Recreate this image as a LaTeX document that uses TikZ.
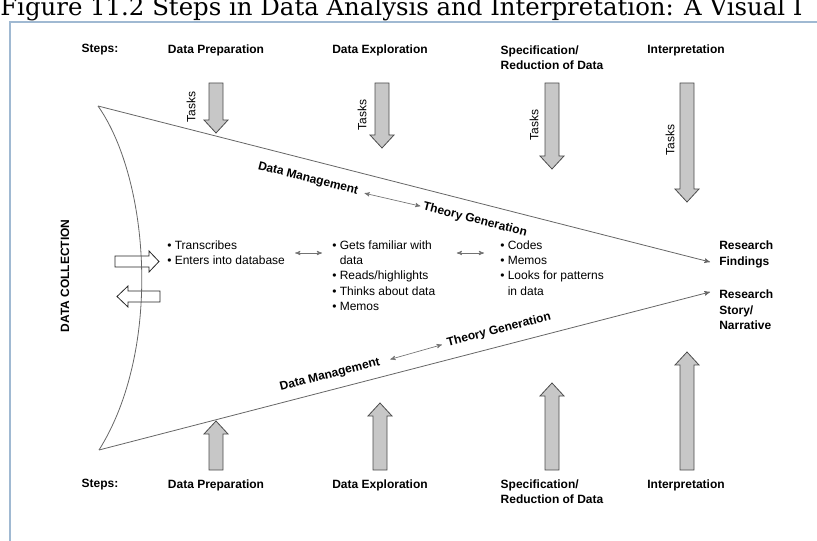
\documentclass[tikz,border=0pt]{standalone}
\usepackage{fontspec}
\setmainfont{Liberation Sans}
\newfontfamily\capfont{DejaVu Serif}
\usetikzlibrary{arrows}

\begin{document}
\begin{tikzpicture}[x=0.75pt,y=-0.75pt,>=stealth',
    head/.style={font=\fontsize{9}{11.5}\selectfont\bfseries,align=left,inner sep=0pt},
    txt/.style={font=\fontsize{9}{11.5}\selectfont,align=left,inner sep=0pt},
    tasks/.style={font=\fontsize{9}{11}\selectfont,rotate=90,inner sep=0pt},
    big/.style={draw=black!70,fill=black!22,line width=0.6pt},
    blank/.style={draw=black!85,fill=white,line width=0.6pt},
    dbl/.style={<->,draw=black!55,line width=0.5pt},
    main/.style={draw=black!60,line width=0.6pt}]
                \useasboundingbox (0,0) rectangle (817,541);
                % caption, cut off at the top
                \node[anchor=base west,inner sep=0pt,font=\capfont\fontsize{18.3}{20}\selectfont](caption)at(0,16){Figure 11.2 Steps in Data Analysis and Interpretation: A Visual I};
                \draw[draw={rgb,255:red,160;green,185;blue,210},line width=1.2pt](10,541) -- (10,22) -- (817,22);
                % steps
                \node[head](steps)at(100,50){Steps:};
                \node[head](prep)at(216,50){Data Preparation};
                \node[head](expl)at(380,50){Data Exploration};
                \node[head](spec)at(552,57.5){Specification/\\Reduction of Data};
                \node[head](interp)at(686,50){Interpretation};
                \node[head](steps2)at(100,485){Steps:};
                \node[head](prep2)at(216,485){Data Preparation};
                \node[head](expl2)at(380,485){Data Exploration};
                \node[head](spec2)at(552,492){Specification/\\Reduction of Data};
                \node[head](interp2)at(686,485){Interpretation};
                % task arrows
                \foreach \x/\tip in {216/133,382/148,552/169,687/202}
                    \draw[big](\x-7,83) -- (\x+7,83) -- (\x+7,\tip-13) -- (\x+12,\tip-13) -- (\x,\tip) -- (\x-12,\tip-13) -- (\x-7,\tip-13) -- cycle;
                \foreach \x/\tip in {216/421,380/403,552/383,687/352}
                    \draw[big](\x-7,470) -- (\x+7,470) -- (\x+7,\tip+13) -- (\x+12,\tip+13) -- (\x,\tip) -- (\x-12,\tip+13) -- (\x-7,\tip+13) -- cycle;
                \foreach \x/\y [count=\i] in {191/107,362/115,534/125,670/140}
                    \node[tasks](task\i)at(\x,\y){Tasks};
                % data collection
                \node[head,rotate=90](collect)at(65,276){DATA COLLECTION};
                \draw[blank](115,256) -- (149,256) -- (149,251) -- (159,261.5) -- (149,272) -- (149,267) -- (115,267) -- cycle;
                \draw[blank](160,291) -- (128,291) -- (128,286) -- (117,296.5) -- (128,307) -- (128,302) -- (160,302) -- cycle;
                % the funnel
                \coordinate(tipup)at(98,106);
                \coordinate(tipdown)at(99,450);
                \coordinate(findend)at(710,262);
                \coordinate(storyend)at(710,292);
                \draw[main](tipup) .. controls (150,180) and (162,350) .. (tipdown);
                \draw[main,->](tipup) -- (findend);
                \draw[main,->](tipdown) -- (storyend);
                \node[head,anchor=west](findings)at(719,254.5){Research\\Findings};
                \node[head,anchor=west](story)at(719,310){Research\\Story/\\Narrative};
                % tasks in each step
                \node[txt,anchor=west](list1)at(167,253){\textbullet\ Transcribes\\\textbullet\ Enters into database};
                \node[txt,anchor=west](list2)at(332,275.5){\textbullet\ Gets familiar with\\\hphantom{\textbullet\ }data\\\textbullet\ Reads/highlights\\\textbullet\ Thinks about data\\\textbullet\ Memos};
                \node[txt,anchor=west](list3)at(500,268){\textbullet\ Codes\\\textbullet\ Memos\\\textbullet\ Looks for patterns\\\hphantom{\textbullet\ }in data};
                \draw[dbl,shorten <=7.5pt,shorten >=7.5pt](list1.east) -- (list1.east -| list2.west);
                \draw[dbl,shorten <=16pt,shorten >=12pt](list1.east -| list2.east) -- (list1.east -| list3.west);
                % management and theory
                \node[head,rotate=-14.3](manage1)at(308,179){Data Management};
                \node[head,rotate=-14.3](theory1)at(475,220){Theory Generation};
                \node[head,rotate=14.3](manage2)at(330,375){Data Management};
                \node[head,rotate=14.3](theory2)at(499,330){Theory Generation};
                \draw[dbl,shorten <=5pt,shorten >=2pt](manage1.east) -- (theory1.west);
                \draw[dbl,shorten <=8pt,shorten >=4pt](manage2.east) -- (theory2.west);
            \end{tikzpicture}
\end{document}
